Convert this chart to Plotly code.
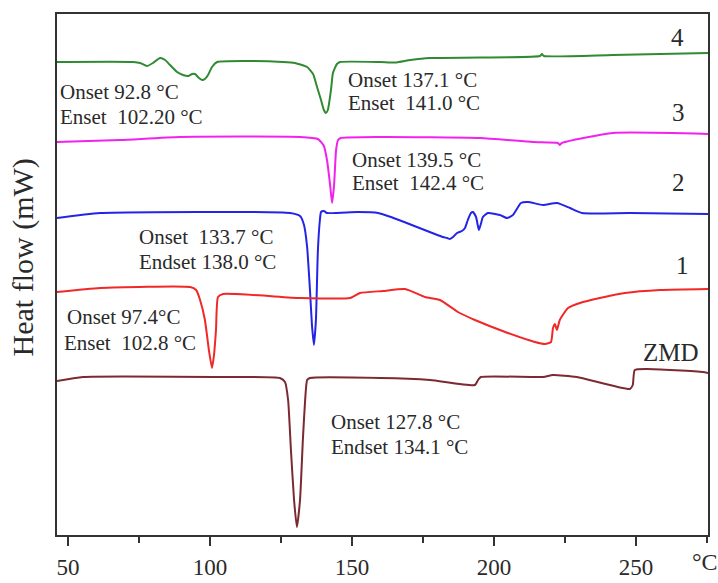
import plotly.graph_objects as go

# Temperature (°C) and stacked heat-flow values (arbitrary offset units)
t4 = [46.1, 72.9, 75.4, 77.8, 79.9, 82.4, 84.2, 85.9, 88.4, 90.5, 92.3, 93.7, 94.7, 96.1, 97.2, 98.2,
      99.3, 100.7, 102.5, 114.1, 125.7, 129.9, 134.2, 136.3, 137.7, 139.1, 140.1, 140.8, 141.5, 142.6,
      143.3, 144.7, 145.8, 159.9, 165.3, 170.6, 177.5, 195.1, 216.2, 216.9, 217.6, 241.9, 275.4]
y4 = [473, 473, 472, 469, 472, 477, 475, 470, 463, 460, 459, 461, 461, 457, 455, 456,
      460, 468, 473, 474, 473, 472, 468, 461, 448, 435, 425, 422, 425, 445,
      462, 471, 473, 473, 472.5, 475, 477, 477.5, 479, 481, 479, 480, 482]

t3 = [46.1, 68.3, 89.4, 131.7, 138.0, 140.1, 141.2, 142.3, 143.0, 143.7, 144.4, 145.1, 146.1,
      159.9, 195.1, 213.7, 222.5, 223.2, 223.9, 241.9, 275.4]
y3 = [393, 395, 398, 398, 396, 389, 375, 350, 332, 350, 385, 395, 397,
      398, 397, 393, 392, 390, 392, 402, 401]

t2 = [46.1, 61.3, 128.2, 131.7, 133.1, 134.2, 135.2, 135.9, 136.6, 137.3, 138.0, 138.7, 139.1,
      140.1, 141.2, 152.1, 159.2, 163.7, 182.0, 183.5, 184.5, 185.6, 187.0, 188.7, 189.8, 190.8,
      191.9, 192.6, 193.7, 194.7, 195.4, 196.1, 197.9, 202.1, 204.6, 206.7, 208.5, 209.5, 212.0,
      217.3, 222.2, 226.8, 231.0, 247.9, 275.4]
y2 = [317, 322, 322, 319, 310, 288, 245, 210, 190, 215, 285, 315, 323,
      324, 322, 323, 322, 318, 298, 297, 296, 298, 302, 304, 307, 315,
      322, 323, 318, 305, 311, 318, 322, 320, 317, 320, 328, 332, 333,
      330, 332, 327, 322, 322, 321]

t1 = [46.1, 61.3, 93.0, 95.1, 96.5, 98.2, 99.6, 100.7, 101.4, 102.1, 102.8, 104.6, 131.7, 149.3,
      152.8, 160.9, 168.7, 175.7, 181.0, 187.3, 193.3, 204.9, 214.4, 218.0, 220.1, 220.8, 221.5,
      222.2, 223.2, 226.1, 230.3, 237.3, 246.1, 258.5, 275.4]
y1 = [243, 247, 248, 245, 235, 215, 185, 167, 180, 205, 238, 241, 237, 237,
      242, 244, 246, 238, 235, 223, 215, 202, 193, 191, 193, 207, 211,
      205, 215, 227, 232, 237, 242, 245, 246]

t0 = [46.1, 55.3, 102.5, 124.6, 126.4, 127.5, 128.5, 129.6, 130.6, 131.7, 132.7, 133.5, 134.2,
      135.2, 159.9, 177.5, 193.3, 194.4, 195.4, 217.3, 220.8, 229.2, 247.9, 248.9, 249.6, 253.9,
      273.6, 275.4]
y0 = [154, 158, 158, 157, 153, 135, 85, 35, 8, 35, 95, 135, 155,
      157, 157, 155, 150, 155, 158, 158, 160, 158, 146, 150, 165, 166,
      163, 162]

series = [
    ("4", t4, y4, "#2f8a32"),
    ("3", t3, y3, "#f222ee"),
    ("2", t2, y2, "#2424e6"),
    ("1", t1, y1, "#f02828"),
    ("ZMD", t0, y0, "#7a2a30"),
]

major_ticks = [50, 100, 150, 200, 250]
minor_ticks = [75, 125, 175, 225, 275]

NB = "\u00a0"
labels = [
    ("Onset 92.8 °C", 46.5, 443, "left"),
    ("Enset " + NB + "102.20 °C", 46.5, 418, "left"),
    ("Onset 137.1 °C", 147.9, 455, "left"),
    ("Enset " + NB + "141.0 °C", 147.9, 432, "left"),
    ("Onset 139.5 °C", 149.3, 375, "left"),
    ("Enset " + NB + "142.4 °C", 149.3, 352, "left"),
    ("Onset " + NB + "133.7 °C", 74.3, 298, "left"),
    ("Endset 138.0 °C", 74.3, 273, "left"),
    ("Onset 97.4°C", 48.9, 218, "left"),
    ("Enset " + NB + "102.8 °C", 47.9, 192, "left"),
    ("Onset 127.8 °C", 141.9, 113, "left"),
    ("Endset 134.1 °C", 141.9, 88, "left"),
]
curve_names = [("4", 264.8, 498), ("3", 265.1, 423), ("2", 265.1, 353), ("1", 266.5, 270), ("ZMD", 262.3, 183)]

fig = go.Figure()
for name, t, y, c in series:
    fig.add_trace(go.Scatter(x=t, y=y, mode="lines", name=name,
                             line=dict(color=c, width=2, shape="spline", smoothing=0.5),
                             showlegend=False))

serif = "Liberation Serif, Times New Roman, serif"
for txt, x, y, anc in labels:
    fig.add_annotation(x=x, y=y, xref="x", yref="y", text=txt, showarrow=False,
                       xanchor=anc, yanchor="middle",
                       font=dict(family=serif, size=21, color="#2a2a2a"))
for txt, x, y in curve_names:
    fig.add_annotation(x=x, y=y, xref="x", yref="y", text=txt, showarrow=False,
                       xanchor="center", yanchor="middle",
                       font=dict(family=serif, size=25, color="#2a2a2a"))

fig.add_annotation(x=274.5, y=-0.052, xref="x", yref="paper", text="°C", showarrow=False,
                   xanchor="center", yanchor="middle",
                   font=dict(family=serif, size=24, color="#2a2a2a"))
fig.add_annotation(x=-0.052, y=0.533, xref="paper", yref="paper", text="Heat flow (mW)",
                   showarrow=False, textangle=-90, xanchor="center", yanchor="middle",
                   font=dict(family=serif, size=30, color="#2a2a2a"))

fig.update_layout(
    width=718, height=583,
    margin=dict(l=57, r=10, t=14, b=48, autoexpand=False),
    paper_bgcolor="white", plot_bgcolor="white",
    xaxis=dict(range=[46.1, 275.4], tickmode="array", tickvals=major_ticks,
               ticktext=[str(v) for v in major_ticks], automargin=False,
               ticks="outside", ticklen=9, tickwidth=2, tickcolor="#333",
               ticklabelstandoff=1,
               showline=True, linewidth=2, linecolor="#333", mirror=True,
               showgrid=False, zeroline=False,
               tickfont=dict(family=serif, size=23, color="#2a2a2a"),
               minor=dict(tickmode="array", tickvals=minor_ticks, ticks="outside",
                          ticklen=6, tickwidth=2, tickcolor="#333", showgrid=False)),
    yaxis=dict(range=[0, 521], showticklabels=False, ticks="", automargin=False,
               showline=True, linewidth=2, linecolor="#333", mirror=True,
               showgrid=False, zeroline=False),
)

fig.write_html("out.html")
